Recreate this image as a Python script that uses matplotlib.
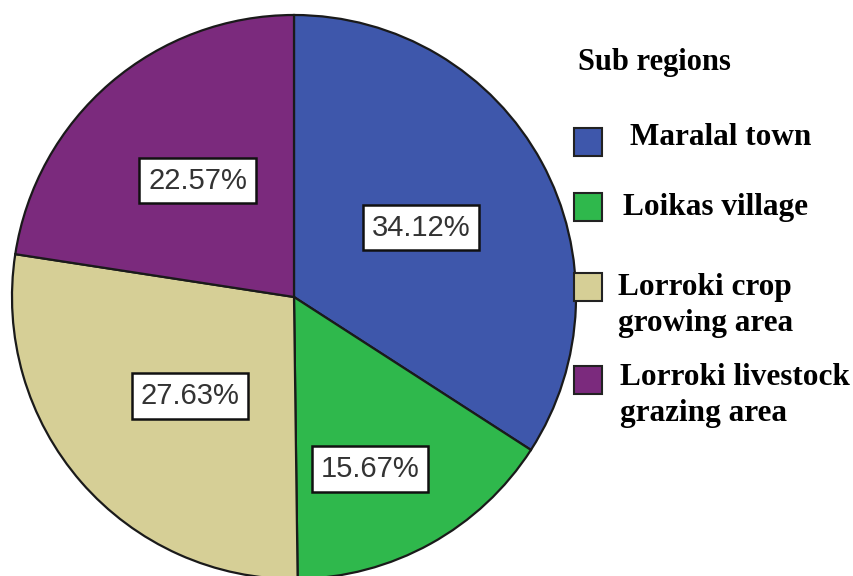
import numpy as np
import matplotlib.pyplot as plt
from matplotlib.patches import Rectangle

# Data
regions = ['Maralal town', 'Loikas village', 'Lorroki crop\ngrowing area',
           'Lorroki livestock\ngrazing area']
shares = [34.12, 15.67, 27.63, 22.57]
colors = ['#3e57ab', '#2fb84c', '#d6cf96', '#7b2a7d']

W, H = 854, 576
fig = plt.figure(figsize=(W / 100, H / 100), dpi=100)
ax = fig.add_axes([0, 0, 1, 1])

# pie centre / radius in pixels
cx, cy, r = 294, 297, 282

wedges, _ = ax.pie(shares, colors=colors, startangle=90, counterclock=False,
                   radius=1, center=(0, 0), frame=True,
                   wedgeprops=dict(edgecolor='#1a1a1a', linewidth=1.6))
ax.axis('off')
ax.set_aspect('equal')
ax.set_xlim(-cx / r, (W - cx) / r)
ax.set_ylim(-(H - cy) / r, cy / r)

# percent labels: distance from centre and small angle shift per slice
dist = [0.514, 0.667, 0.51, 0.536]
shift = [0, -5, 2.6, -1]
for w, v, d, s in zip(wedges, shares, dist, shift):
    ang = np.deg2rad((w.theta1 + w.theta2) / 2 + s)
    ax.text(d * np.cos(ang), d * np.sin(ang), f'{v:.2f}%',
            ha='center', va='center', fontsize=21, color='#333333',
            family='Liberation Sans',
            bbox=dict(boxstyle='square,pad=0.3', fc='white', ec='#111111', lw=1.8))

# legend drawn by hand
def fx(x):
    return x / W

def fy(y):
    return 1 - y / H

fig.text(fx(578), fy(70), 'Sub regions', family='Liberation Serif',
         weight='bold', fontsize=22, va='baseline', ha='left')

box_y = [142, 207, 287, 380]
base_y = [145, 215, 295, 385]
text_x = [630, 623, 618, 620]
for lab, col, by, ty, tx in zip(regions, colors, box_y, base_y, text_x):
    fig.add_artist(Rectangle((fx(574), fy(by + 14)), 28 / W, 28 / H,
                             transform=fig.transFigure, fc=col,
                             ec='#222222', lw=1.5))
    for i, line in enumerate(lab.split('\n')):
        fig.text(fx(tx), fy(ty + i * 36), line, family='Liberation Serif',
                 weight='bold', fontsize=22.5, va='baseline', ha='left')

fig.savefig('out.png', dpi=100)
